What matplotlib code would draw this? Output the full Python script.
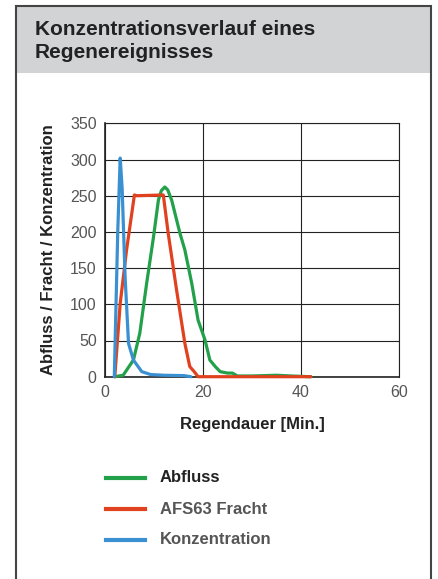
import matplotlib
matplotlib.use("Agg")
import matplotlib.pyplot as plt
from matplotlib.patches import Rectangle
from matplotlib import font_manager

# pick a narrow font if there is one
names = set(f.name for f in font_manager.fontManager.ttflist)
fam = ["Liberation Sans Narrow", "DejaVu Sans"] if "Liberation Sans Narrow" in names else ["Liberation Sans", "DejaVu Sans"]
plt.rcParams['font.family'] = fam

# data
abfluss_x = [2.0, 3.7, 5.8, 7.1, 8.5, 9.9, 10.9, 11.5, 12.2, 12.8, 13.6, 15.3, 16.3, 17.7, 19.0,
             20.4, 21.4, 22.5, 23.5, 25.0, 26.0, 27.0, 30.0, 35.0, 38.0, 42.0]
abfluss_y = [0, 2, 23, 60, 129, 193, 244, 257, 262, 258, 244, 198, 175, 129, 78,
             51, 23, 14, 7, 5, 5, 1, 1, 2, 1, 0]

fracht_x = [2.0, 3.1, 4.4, 6.0, 6.5, 11.9, 12.9, 14.6, 16.3, 17.3, 18.2, 19.0, 42.0]
fracht_y = [0, 101, 175, 251, 250, 251, 198, 120, 46, 14, 7, 0, 0]

konz_x = [1.9, 2.6, 3.1, 3.5, 4.1, 4.8, 5.8, 7.5, 9.3, 12.0, 16.1, 17.5]
konz_y = [0, 200, 302, 260, 138, 46, 23, 7, 3, 2, 1.5, 0]

series = [("Abfluss", abfluss_x, abfluss_y, "#22a04a", "#222222"),
          ("AFS63 Fracht", fracht_x, fracht_y, "#e0421f", "#555555"),
          ("Konzentration", konz_x, konz_y, "#3a90d0", "#555555")]

fig = plt.figure(figsize=(4.38, 5.79), dpi=100, facecolor="white")

# grey header and frame
W, H = 438, 579
fig.patches.append(Rectangle((16 / W, 1 - 73 / H), (431 - 16) / W, (73 - 6) / H, transform=fig.transFigure,
                             facecolor="#d1d3d4", edgecolor="none", zorder=-2))
fig.patches.append(Rectangle((16 / W, -0.01), (431 - 16) / W, 1.01 - 6 / H, transform=fig.transFigure,
                             facecolor="none", edgecolor="#444444", linewidth=1.5, zorder=-1))
fig.text(35 / W, 1 - 20 / H, "Konzentrationsverlauf eines\nRegenereignisses", fontsize=15,
         fontweight="bold", color="#222222", va="top", ha="left", linespacing=1.3)

ax = fig.add_axes([105 / W, 1 - 376.7 / H, (399 - 105) / W, (376.7 - 123.3) / H])
ax.set_zorder(5)
for name, xs, ys, col, tc in series:
    ax.plot(xs, ys, color=col, linewidth=2.3, solid_joinstyle="round", solid_capstyle="round",
            zorder=3, clip_on=False)

ax.set_xlim(0, 60)
ax.set_ylim(0, 350)
ax.set_xticks([0, 20, 40, 60])
ax.set_yticks(range(0, 351, 50))
ax.grid(True, color="#222222", linewidth=0.8)
ax.tick_params(length=0, labelsize=11.5, labelcolor="#555555", pad=6)
for s in ax.spines.values():
    s.set_color("#222222")
    s.set_linewidth(0.8)
ax.spines['left'].set_linewidth(1.2)
ax.spines['bottom'].set_linewidth(1.2)
ax.set_xlabel("Regendauer [Min.]", fontsize=12, fontweight="bold", color="#222222", labelpad=12)
ax.set_ylabel("Abfluss / Fracht / Konzentration", fontsize=12, fontweight="bold", color="#222222", labelpad=10)

# legend drawn by hand
for i, (name, xs, ys, col, tc) in enumerate(series):
    yy = 1 - (478 + 31 * i) / H
    fig.add_artist(plt.Line2D([106 / W, 145 / W], [yy, yy], color=col, linewidth=3,
                              transform=fig.transFigure))
    fig.text(160 / W, yy, name, fontsize=12, fontweight="bold", color=tc, va="center", ha="left")

fig.savefig("out.png", dpi=100)
